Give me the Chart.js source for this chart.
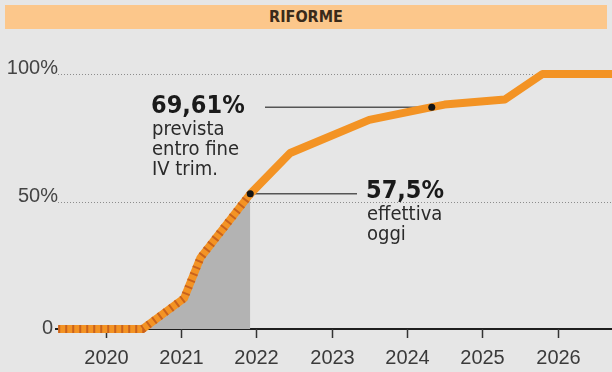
<!DOCTYPE html>
<html>
<head>
<meta charset="utf-8">
<script src="https://cdn.jsdelivr.net/npm/chart.js@4/dist/chart.umd.min.js"></script>
<style>
html,body{margin:0;padding:0;background:#e6e6e6;}
#wrap{position:relative;width:612px;height:372px;overflow:hidden;}
#titolo{position:absolute;left:5px;top:5px;width:602px;height:24px;background:#fcc78b;
  font:bold 16px 'Liberation Sans Narrow','DejaVu Sans Condensed',sans-serif;color:#3a2a1a;
  text-align:center;line-height:24px;}
canvas{position:absolute;left:0;top:0;}
</style>
</head>
<body>
<div id="wrap">
  <div id="titolo">RIFORME</div>
  <canvas id="graficoRiforme" width="612" height="372"></canvas>
</div>
<script>
// dati
const anni = [2019.37, 2020.49, 2021.04, 2021.26, 2021.92, 2022.45, 2023.5, 2024.33, 2024.5, 2025.3, 2025.8, 2026.8]
const percentuali = [0, 0, 12, 28, 53, 69, 82, 87, 88, 90, 100, 100]
const idxOggi = 4       // 57,5% effettiva oggi
const idxPrevista = 7   // 69,61% prevista entro fine IV trim.
const anniTick = [2020, 2021, 2022, 2023, 2024, 2025, 2026]
const valoriY = [0, 50, 100]
const etichetteY = ['0', '50%', '100%']

const punti = anni.map((a, i) => ({x: a, y: percentuali[i]}))

const decorazioni = {
  id: 'decorazioni',
  beforeDatasetsDraw(chart) {
    const ctx = chart.ctx
    const sx = chart.scales.x, sy = chart.scales.y
    ctx.save()
    // griglia tratteggiata
    ctx.strokeStyle = '#8c8c8c'
    ctx.lineWidth = 1
    ctx.setLineDash([1, 2])
    ;[50, 100].forEach(v => {
      const y = Math.round(sy.getPixelForValue(v)) + 0.5
      ctx.beginPath(); ctx.moveTo(58, y); ctx.lineTo(612, y); ctx.stroke()
    })
    ctx.setLineDash([])
    // asse x
    const y0 = sy.getPixelForValue(0)
    ctx.strokeStyle = '#1e1e1e'
    ctx.lineWidth = 2
    ctx.beginPath(); ctx.moveTo(55, y0); ctx.lineTo(612, y0); ctx.stroke()
    ctx.lineWidth = 1.5
    ctx.strokeStyle = '#333'
    ctx.fillStyle = '#3a3a3a'
    ctx.font = '20px "Liberation Sans", Arial, sans-serif'
    ctx.textAlign = 'center'
    ctx.textBaseline = 'alphabetic'
    anniTick.forEach(a => {
      const x = Math.round(sx.getPixelForValue(a)) + 0.5
      ctx.beginPath(); ctx.moveTo(x, y0); ctx.lineTo(x, y0 + 9); ctx.stroke()
      ctx.fillText(String(a), x, 364)
    })
    // etichette asse y
    ctx.textAlign = 'right'
    ctx.fillStyle = '#444'
    valoriY.forEach((v, i) => {
      const y = sy.getPixelForValue(v)
      if (v === 0) ctx.fillText(etichetteY[i], 53, y + 5)
      else ctx.fillText(etichetteY[i], 58, y)
    })
    // linee di richiamo
    ctx.strokeStyle = '#555'
    ctx.lineWidth = 1.5
    const xo = sx.getPixelForValue(anni[idxOggi]), yo = sy.getPixelForValue(percentuali[idxOggi])
    ctx.beginPath(); ctx.moveTo(xo, yo); ctx.lineTo(357, yo); ctx.stroke()
    const xp = sx.getPixelForValue(anni[idxPrevista]), yp = sy.getPixelForValue(percentuali[idxPrevista])
    ctx.beginPath(); ctx.moveTo(265, yp); ctx.lineTo(xp, yp); ctx.stroke()
    ctx.restore()
  },
  afterDatasetsDraw(chart) {
    const ctx = chart.ctx
    ctx.save()
    ctx.fillStyle = '#1a1a1a'
    ctx.textAlign = 'left'
    ctx.textBaseline = 'alphabetic'
    ctx.font = 'bold 25px "DejaVu Sans Condensed", "Open Sans", sans-serif'
    ctx.fillText('69,61%', 151, 113)
    ctx.fillText('57,5%', 366, 198)
    ctx.fillStyle = '#2a2a2a'
    ctx.font = '20px "Liberation Sans Narrow", "DejaVu Sans Condensed", sans-serif'
    ctx.fillText('prevista', 152, 135)
    ctx.fillText('entro fine', 152, 155)
    ctx.fillText('IV trim.', 152, 175)
    ctx.fillText('effettiva', 367, 220)
    ctx.fillText('oggi', 367, 240)
    ctx.restore()
  }
}

new Chart(document.getElementById('graficoRiforme'), {
  type: 'line',
  data: {
    datasets: [
      {
        label: 'area',
        data: punti.slice(1, idxOggi + 1),
        fill: 'origin',
        backgroundColor: '#b3b3b3',
        borderWidth: 0,
        pointRadius: 0,
        order: 4
      },
      {
        label: 'riforme',
        data: punti,
        borderColor: '#f39324',
        borderWidth: 8,
        borderJoinStyle: 'round',
        pointRadius: 0,
        fill: false,
        order: 3
      },
      {
        label: 'strisce',
        data: punti.slice(0, idxOggi + 1),
        borderColor: '#c9621c',
        borderWidth: 8,
        borderDash: [2, 5],
        borderCapStyle: 'butt',
        pointRadius: 0,
        fill: false,
        order: 2
      },
      {
        label: 'punti',
        data: [punti[idxOggi], punti[idxPrevista]],
        showLine: false,
        pointRadius: 3.5,
        pointBackgroundColor: '#151515',
        pointBorderWidth: 0,
        order: 1
      }
    ]
  },
  options: {
    responsive: false,
    animation: false,
    clip: false,
    layout: { padding: { top: 74, bottom: 43, left: 0, right: 0 } },
    scales: {
      x: { type: 'linear', min: 2018.65, max: 2026.67, display: false },
      y: { min: 0, max: 100, display: false }
    },
    plugins: { legend: false, tooltip: { enabled: false } }
  },
  plugins: [decorazioni]
})
</script>
</body>
</html>
